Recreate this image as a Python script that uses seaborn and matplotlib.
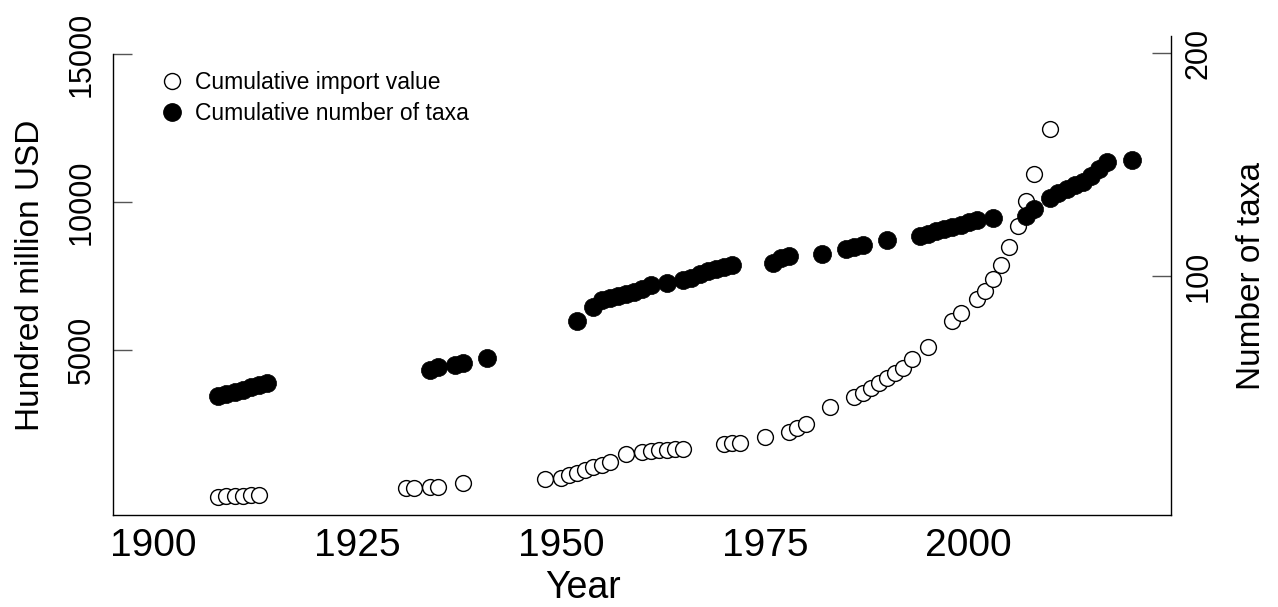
import matplotlib
matplotlib.use("Agg")
import matplotlib.pyplot as plt
from matplotlib.lines import Line2D
import seaborn as sns
import pandas as pd

# ---- data ----
import_years = [1908, 1909, 1910, 1911, 1912, 1913,
                1931, 1932, 1934, 1935, 1938,
                1948, 1950, 1951, 1952, 1953, 1954, 1955, 1956, 1958, 1960,
                1961, 1962, 1963, 1964, 1965, 1970, 1971, 1972, 1975, 1978,
                1979, 1980, 1983, 1986, 1987, 1988, 1989, 1990, 1991, 1992,
                1993, 1995, 1998, 1999, 2001, 2002, 2003, 2004, 2005, 2006,
                2007, 2008, 2010]
import_values = [60, 70, 80, 90, 100, 110,
                 350, 350, 385, 385, 515,
                 650, 690, 790, 855, 955, 1055, 1125, 1225, 1500, 1565,
                 1600, 1630, 1635, 1665, 1670, 1835, 1865, 1870, 2070, 2240,
                 2375, 2510, 3085, 3420, 3560, 3730, 3900, 4065, 4235, 4400,
                 4700, 5120, 6000, 6270, 6740, 7010, 7415, 7890, 8500, 9205,
                 10050, 10965, 12485]

taxa_years = [1908, 1909, 1910, 1911, 1912, 1913, 1914,
              1934, 1935, 1937, 1938, 1941,
              1952, 1954, 1955, 1956, 1957, 1958, 1959, 1960, 1961, 1963,
              1965, 1966, 1967, 1968, 1969, 1970, 1971, 1976, 1977, 1978,
              1982, 1985, 1986, 1987, 1990, 1994, 1995, 1996, 1997, 1998,
              1999, 2000, 2001, 2003, 2007, 2008, 2010, 2011, 2012, 2013,
              2014, 2015, 2016, 2017, 2020]
taxa_counts = [46, 47, 48, 49, 50, 51, 52,
               58, 59, 60, 61, 63,
               80, 86, 89, 90, 91, 92, 93, 94, 96, 97,
               98, 99, 101, 102, 103, 104, 105, 106, 108, 109,
               110, 112, 113, 114, 116, 118, 119, 120, 121, 122,
               123, 124, 125, 126, 127, 130, 135, 137, 139, 141,
               142, 145, 148, 151, 152]

left_ticks = [5000, 10000, 15000]
right_ticks = [100, 200]
x_ticks = [1900, 1925, 1950, 1975, 2000]

imp_df = pd.DataFrame({"Year": import_years, "Value": import_values})
taxa_df = pd.DataFrame({"Year": taxa_years, "Taxa": taxa_counts})

sns.set_theme(style="white")
plt.rcParams["font.family"] = ["Liberation Sans", "DejaVu Sans"]
plt.rcParams["text.color"] = "black"
plt.rcParams["axes.labelcolor"] = "black"
plt.rcParams["xtick.color"] = "black"
plt.rcParams["ytick.color"] = "black"

W, H = 1278, 607
fig = plt.figure(figsize=(W / 100, H / 100), dpi=100)
ax = fig.add_axes([113 / W, 1 - 515 / H, (1171 - 113) / W, (515 - 36) / H])
ax2 = ax.twinx()

sns.scatterplot(data=imp_df, x="Year", y="Value", ax=ax, s=130,
                facecolor="white", edgecolor="black", linewidth=1.0,
                marker="o", legend=False, zorder=3)
sns.scatterplot(data=taxa_df, x="Year", y="Taxa", ax=ax2, s=170,
                color="black", edgecolor="black", linewidth=0.5,
                marker="o", legend=False, zorder=3)

ax.set_xlim(1895.1, 2024.8)
ax.set_ylim(-564, 15618)
ax2.set_ylim(-7.2, 207.6)

ax.set_xticks(x_ticks)
ax.set_yticks(left_ticks)
ax2.set_yticks(right_ticks)
ax.set_xticklabels([str(t) for t in x_ticks], fontsize=28, color="black")
ax.set_yticklabels([str(t) for t in left_ticks], fontsize=22, rotation=90,
                   va="center", color="black")
ax2.set_yticklabels([str(t) for t in right_ticks], fontsize=22, rotation=90,
                    va="center", color="black")

for a in (ax, ax2):
    a.patch.set_visible(False)
    a.spines["top"].set_visible(False)
    for s in ("left", "right", "bottom"):
        a.spines[s].set_color("black")
        a.spines[s].set_linewidth(1.0)
ax.spines["right"].set_visible(False)
ax2.spines["left"].set_visible(False)
ax2.spines["bottom"].set_visible(False)
ax.spines["left"].set_bounds(-564, 15000)

ax.tick_params(axis="x", direction="in", length=14, width=1, color="#333333",
               pad=9, labelcolor="black")
ax.tick_params(axis="y", direction="in", length=14, width=1, color="#555555",
               pad=11.5, labelcolor="black")
ax2.tick_params(axis="y", direction="in", length=14, width=1, color="#555555",
                pad=9, labelcolor="black")

ax.set_xlabel("Year", fontsize=27, color="black")
ax.xaxis.set_label_coords((583 - 113) / 1058, (515 - 570) / 479)
ax.set_ylabel("Hundred million USD", fontsize=24, color="black")
ax2.set_ylabel("Number of taxa", fontsize=24, rotation=90, color="black")
ax.yaxis.set_label_coords(-(113 - 46) / 1058, 0.5)
ax2.yaxis.set_label_coords(1 + (1236 - 1171) / 1058, 0.5)

handles = [
    Line2D([], [], marker="o", linestyle="none", markersize=11.5,
           markerfacecolor="white", markeredgecolor="black", markeredgewidth=1.0),
    Line2D([], [], marker="o", linestyle="none", markersize=12.5,
           markerfacecolor="black", markeredgecolor="black"),
]
leg = ax.legend(handles, ["Cumulative import value", "Cumulative number of taxa"],
                loc="upper left", bbox_to_anchor=(161 / W, 1 - 71 / H),
                bbox_transform=fig.transFigure, frameon=False, fontsize=16.5,
                handlelength=1.0, handletextpad=0.5, labelspacing=0.35,
                borderaxespad=0, borderpad=0)
for t in leg.get_texts():
    t.set_color("black")

fig.savefig("out.png", dpi=100)
